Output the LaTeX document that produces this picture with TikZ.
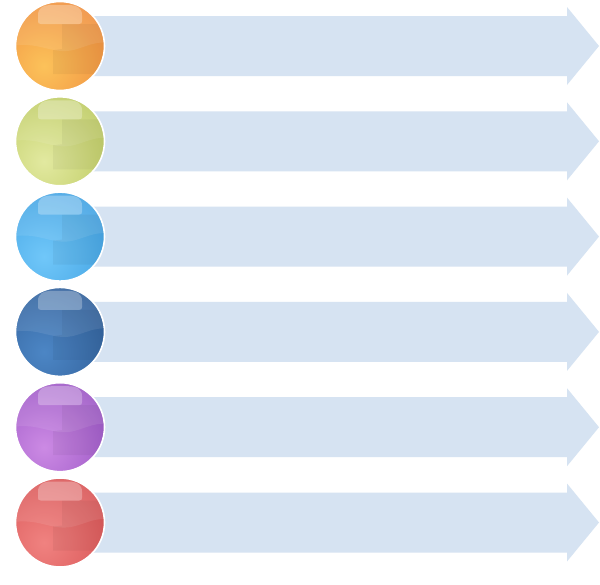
\documentclass[tikz,border=0pt]{standalone}
\definecolor{arrowcol}{HTML}{D6E3F2}
\definecolor{oo}{HTML}{EE883C}
\definecolor{oi}{HTML}{FCC25A}
\definecolor{go}{HTML}{B9C75A}
\definecolor{gi}{HTML}{E2E9A0}
\definecolor{lo}{HTML}{3C9DDF}
\definecolor{li}{HTML}{70C7F9}
\definecolor{do}{HTML}{2E5B94}
\definecolor{di}{HTML}{4C86C5}
\definecolor{po}{HTML}{9550C1}
\definecolor{pi}{HTML}{CC8AE4}
\definecolor{ro}{HTML}{D54F50}
\definecolor{ri}{HTML}{F08280}
\tikzset{
  arrowshape/.style={fill=arrowcol, draw=none},
  ballring/.style={draw=white, line width=1.6pt},
  glare/.style={fill=white, opacity=0.28},
  band/.style={fill=white, opacity=0.09},
  shadeL/.style={fill=black, opacity=0.045}
}
\begin{document}
\begin{tikzpicture}[x=1pt,y=-1pt]
\useasboundingbox (0,0) rectangle (600,584);
\fill[white] (0,0) rectangle (600,584);
\foreach \i/\cin/\cout in {0/oi/oo,1/gi/go,2/li/lo,3/di/do,4/pi/po,5/ri/ro} {
  \pgfmathsetmacro\yc{46+95.3*\i}
  \coordinate (c\i) at (60,\yc);
  \begin{scope}[shift={(c\i)}]
    % arrow
    \fill[arrowshape] (0,-30) -- (507,-30) -- (507,-39) -- (539,0) -- (507,39) -- (507,30) -- (0,30) -- cycle;
    % ball
    \begin{scope}
      \clip (0,0) circle (44);
      \fill[\cout] (0,0) circle (44);
      \shade[inner color=\cin, outer color=\cout] (-16,20) circle (84);
      \fill[band] (-50,-50) -- (50,-50) -- (50,-3) .. controls (30,-6) and (20,6) .. (2,5) .. controls (-15,4) and (-25,-4) .. (-50,0) -- cycle;
      \fill[shadeL] (2,-22) -- (2,3) -- (-7,4) -- (-7,28) -- (50,28) -- (50,-22) -- cycle;
      \fill[glare] (-19,-22) .. controls (-21.5,-22) and (-22,-23) .. (-22,-25) -- (-22,-31) .. controls (-22,-38) and (-17,-41) .. (-8,-41) -- (8,-41) .. controls (17,-41) and (22,-38) .. (22,-31) -- (22,-25) .. controls (22,-23) and (21.5,-22) .. (19,-22) -- cycle;
    \end{scope}
    \draw[ballring] (0,0) circle (44.5);
  \end{scope}
}
\end{tikzpicture}
\end{document}
